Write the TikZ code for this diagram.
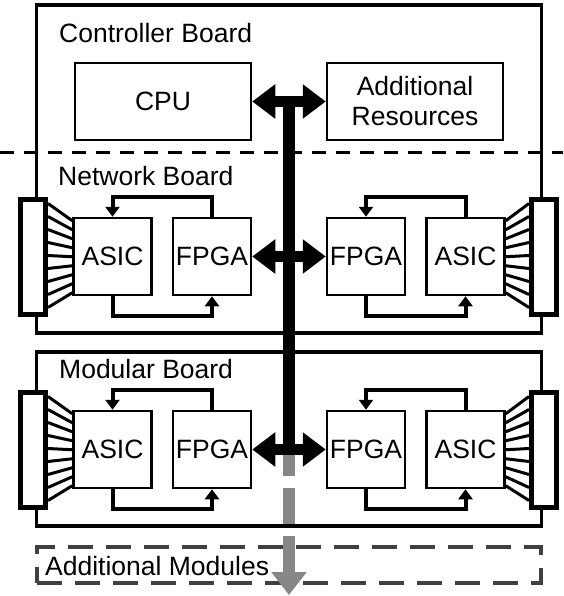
\documentclass[tikz,border=0pt]{standalone}
\usepackage{fontspec}
\setmainfont{Liberation Sans}
\usetikzlibrary{arrows.meta,positioning}
\tikzset{
    %Define style for the boards
    board/.style={
           rectangle,
           draw=black, line width=3.5pt,
           minimum width=505pt,
           inner sep=0pt},
    extra/.style={
           rectangle,
           draw=black!75, line width=4pt,
           dash pattern=on 25pt off 13pt,
           minimum width=504pt,
           minimum height=36pt},
    %Define style for chips
    chip/.style={
           rectangle,
           draw=black, line width=2.5pt,
           minimum width=78pt,
           minimum height=77pt,
           inner sep=0pt,
           text centered},
    wide/.style={
           chip,
           minimum width=176pt,
           align=center},
    port/.style={
           rectangle,
           draw=black, line width=5pt,
           fill=white,
           minimum width=25pt,
           minimum height=115pt},
    title/.style={anchor=base west, inner sep=0pt},
    % Define arrow styles
    fan/.style={line width=3pt},
    fb/.style={
           -{Triangle[length=10pt,width=14pt]},
           line width=4pt},
    bus/.style={
           {Triangle[length=23pt,width=33pt]}-{Triangle[length=23pt,width=33pt]},
           line width=11pt},
    trunk/.style={line width=12pt},
    more/.style={
           -{Triangle[length=23pt,width=34pt]},
           draw=black!47, line width=12pt,
           dash pattern=on 36pt off 12pt, dash phase=9.5pt},
    sep/.style={line width=3pt, dash pattern=on 14pt off 10pt}
}

\begin{document}
\begin{tikzpicture}[x=1pt,y=-1pt,node distance=19pt,
  font=\fontsize{26.5}{30}\selectfont]
\useasboundingbox (0,0) rectangle (563,596);
\node[board, minimum height=328pt](upper) at (289,169) {};
\node[board, minimum height=174pt](modular) at (289,439) {};
\node[extra](addmod) at (289,565) {};
\node[title](ctitle) at (59,43) {Controller Board};
\node[title](ntitle) at (58,185) {Network Board};
\node[title](mtitle) at (59,378) {Modular Board};
\node[title](atitle) at (45,575) {Additional Modules};
\node[wide](cpu) at (163,101.5) {CPU};
\node[wide](ar) at (415,101.5) {Additional\\Resources};
\foreach \brd/\y in {n/256.5,m/449.5}{
  \node[chip](lf\brd) at (212,\y) {FPGA};
  \node[chip, left=of lf\brd](la\brd) {ASIC};
  \node[chip](rf\brd) at (366,\y) {FPGA};
  \node[chip, right=of rf\brd](ra\brd) {ASIC};
  \node[port](lp\brd) at (33,\y) {};
  \node[port](rp\brd) at (544,\y) {};
  \foreach \i in {0,...,8}{
    \draw[fan] ([yshift={-7pt-13pt*\i}]lp\brd.north east) -- ([yshift={-4pt-9pt*\i}]la\brd.north west);
    \draw[fan] ([yshift={-4pt-9pt*\i}]ra\brd.north east) -- ([yshift={-7pt-13pt*\i}]rp\brd.north west);
  }
  \draw[fb] (lf\brd.north) -- ++(0,-20) -| (la\brd.north);
  \draw[fb] (la\brd.south) -- ++(0,20) -| (lf\brd.south);
  \draw[fb] (ra\brd.north) -- ++(0,-20) -| (rf\brd.north);
  \draw[fb] (rf\brd.south) -- ++(0,20) -| (ra\brd.south);
}
\coordinate (sepl) at (0,153);
\coordinate (sepr) at (563,153);
\draw[sep] (sepl) -- (sepr);
\coordinate (bustop) at (289,101.5);
\coordinate (busend) at (289,449.5);
\coordinate (down) at (289,595);
\draw[more] (busend) -- (down);
\draw[trunk] (bustop) -- (busend);
\path[bus]
  (cpu) edge (ar)
  (lfn) edge (rfn)
  (lfm) edge (rfm);
\end{tikzpicture}
\end{document}
